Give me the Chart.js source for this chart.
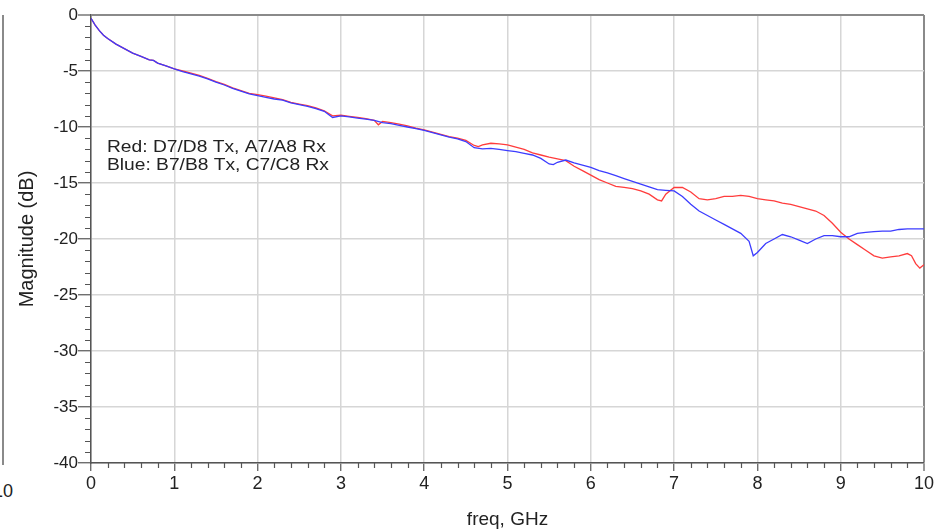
<!DOCTYPE html>
<html><head><meta charset="utf-8">
<script src="https://cdn.jsdelivr.net/npm/chart.js@4.4.0/dist/chart.umd.min.js"></script>
<style>
html,body{margin:0;padding:0;background:#fff;}
#wrap{position:relative;width:944px;height:531px;overflow:hidden;background:#fff;}
canvas{position:absolute;left:0;top:0;}
#edge{position:absolute;left:2px;top:15px;height:450px;border-left:2px solid #8a8a8a;}
#edgeLbl{position:absolute;left:-7px;top:481px;font:18px "Liberation Sans",Arial,sans-serif;color:#222;}
</style></head>
<body><div id="wrap"><div id="edge"></div><div id="edgeLbl">10</div><canvas id="c" width="944" height="531"></canvas></div>
<script>
// [freq GHz, magnitude dB]
const redSeries = [
[0,-0.3],[0.05,-0.9],[0.1,-1.4],[0.15,-1.8],[0.2,-2.1],[0.3,-2.6],[0.4,-3.0],[0.5,-3.4],[0.6,-3.7],[0.7,-4.0],[0.75,-4.05],[0.8,-4.3],[0.9,-4.55],
[1.0,-4.8],[1.1,-5.0],[1.2,-5.2],[1.3,-5.4],[1.4,-5.65],[1.5,-5.95],[1.6,-6.2],[1.7,-6.5],[1.8,-6.75],[1.9,-7.0],
[2.0,-7.1],[2.1,-7.25],[2.2,-7.4],[2.3,-7.55],[2.4,-7.8],[2.5,-7.95],[2.6,-8.1],[2.7,-8.3],[2.8,-8.55],[2.9,-9.0],
[3.0,-8.95],[3.1,-9.05],[3.2,-9.15],[3.3,-9.25],[3.4,-9.4],[3.45,-9.8],[3.5,-9.5],[3.6,-9.6],[3.7,-9.75],[3.8,-9.9],[3.9,-10.1],
[4.0,-10.25],[4.1,-10.45],[4.2,-10.65],[4.3,-10.85],[4.4,-11.0],[4.5,-11.2],[4.6,-11.65],[4.65,-11.75],[4.7,-11.6],[4.8,-11.45],[4.9,-11.5],
[5.0,-11.6],[5.1,-11.8],[5.2,-12.0],[5.3,-12.3],[5.4,-12.5],[5.5,-12.7],[5.6,-12.85],[5.7,-13.0],[5.8,-13.5],[5.9,-13.9],
[6.0,-14.3],[6.1,-14.7],[6.2,-15.0],[6.3,-15.3],[6.4,-15.4],[6.5,-15.5],[6.6,-15.7],[6.7,-16.0],[6.8,-16.5],[6.85,-16.6],[6.9,-16.0],
[7.0,-15.4],[7.1,-15.4],[7.2,-15.8],[7.3,-16.4],[7.4,-16.5],[7.5,-16.4],[7.6,-16.2],[7.7,-16.2],[7.8,-16.1],[7.9,-16.2],
[8.0,-16.4],[8.1,-16.5],[8.2,-16.6],[8.3,-16.8],[8.4,-16.9],[8.5,-17.1],[8.6,-17.3],[8.7,-17.5],[8.8,-17.9],[8.9,-18.6],
[9.0,-19.4],[9.1,-20.0],[9.2,-20.5],[9.3,-21.0],[9.4,-21.5],[9.5,-21.7],[9.6,-21.6],[9.7,-21.5],[9.8,-21.3],[9.85,-21.5],[9.9,-22.2],[9.95,-22.6],[10.0,-22.3]
];
const blueSeries = [
[0,-0.3],[0.05,-0.9],[0.1,-1.4],[0.15,-1.8],[0.2,-2.1],[0.3,-2.6],[0.4,-3.0],[0.5,-3.4],[0.6,-3.7],[0.7,-4.0],[0.75,-4.05],[0.8,-4.3],[0.9,-4.55],
[1.0,-4.8],[1.1,-5.05],[1.2,-5.25],[1.3,-5.45],[1.4,-5.7],[1.5,-6.0],[1.6,-6.25],[1.7,-6.55],[1.8,-6.8],[1.9,-7.05],
[2.0,-7.2],[2.1,-7.35],[2.2,-7.5],[2.3,-7.6],[2.4,-7.85],[2.5,-8.0],[2.6,-8.15],[2.7,-8.35],[2.8,-8.6],[2.9,-9.15],
[3.0,-9.0],[3.1,-9.1],[3.2,-9.2],[3.3,-9.3],[3.4,-9.4],[3.5,-9.6],[3.6,-9.7],[3.7,-9.85],[3.8,-10.0],[3.9,-10.15],
[4.0,-10.3],[4.1,-10.5],[4.2,-10.7],[4.3,-10.9],[4.4,-11.05],[4.5,-11.3],[4.6,-11.85],[4.7,-11.95],[4.8,-11.9],[4.9,-12.0],
[5.0,-12.1],[5.1,-12.2],[5.2,-12.35],[5.3,-12.5],[5.4,-12.8],[5.5,-13.3],[5.55,-13.35],[5.6,-13.15],[5.7,-12.95],[5.8,-13.2],[5.9,-13.4],
[6.0,-13.6],[6.1,-13.9],[6.2,-14.1],[6.3,-14.35],[6.4,-14.6],[6.5,-14.85],[6.6,-15.1],[6.7,-15.35],[6.8,-15.6],[6.9,-15.65],
[7.0,-15.7],[7.1,-16.2],[7.2,-16.9],[7.3,-17.5],[7.4,-17.9],[7.5,-18.3],[7.6,-18.7],[7.7,-19.1],[7.8,-19.5],[7.9,-20.2],[7.95,-21.5],
[8.0,-21.2],[8.05,-20.8],[8.1,-20.4],[8.2,-20.0],[8.3,-19.6],[8.4,-19.8],[8.5,-20.1],[8.6,-20.4],[8.7,-20.0],[8.8,-19.7],[8.9,-19.7],
[9.0,-19.8],[9.1,-19.8],[9.2,-19.5],[9.3,-19.4],[9.4,-19.35],[9.5,-19.3],[9.6,-19.3],[9.7,-19.15],[9.8,-19.1],[9.9,-19.1],[10.0,-19.1]
];
const xTickValues = [0,1,2,3,4,5,6,7,8,9,10];
const yTickValues = [0,-5,-10,-15,-20,-25,-30,-35,-40];
const legendLines = ["Red: D7/D8 Tx, A7/A8 Rx", "Blue: B7/B8 Tx, C7/C8 Rx"];
const xTitle = "freq, GHz";
const yTitle = "Magnitude (dB)";

const FONT = '"Liberation Sans", Arial, Helvetica, sans-serif';
const toXY = s => s.map(p => ({x: p[0], y: p[1]}));

const extras = {
  id: 'extras',
  afterDraw(chart) {
    const {ctx, chartArea: a, scales: {x, y}} = chart;
    ctx.save();
    ctx.strokeStyle = '#555';
    ctx.lineWidth = 1.2;
    ctx.beginPath();
    for (let k = 0; k <= 50; k++) {
      if (k % 5 === 0) continue;
      const px = Math.round(x.getPixelForValue(k * 0.2)) + 0.5;
      ctx.moveTo(px, a.bottom); ctx.lineTo(px, a.bottom + 5);
    }
    for (let k = 0; k <= 40; k++) {
      if (k % 5 === 0) continue;
      const py = Math.round(y.getPixelForValue(-k)) + 0.5;
      ctx.moveTo(a.left, py); ctx.lineTo(a.left - 6, py);
    }
    ctx.stroke();
    ctx.fillStyle = '#222';
    ctx.font = '16px ' + FONT;
    ctx.textBaseline = 'alphabetic';
    legendLines.forEach((t, i) => {
      ctx.save();
      ctx.translate(a.left + 16, a.top + 137 + i * 18);
      ctx.scale(1.2, 1);
      ctx.fillText(t, 0, 0);
      ctx.restore();
    });
    ctx.restore();
  }
};

new Chart(document.getElementById('c'), {
  type: 'scatter',
  data: {
    datasets: [
      {label: 'Blue', data: toXY(blueSeries), showLine: true, borderColor: '#3c3cff', borderWidth: 1.3, pointRadius: 0, tension: 0},
      {label: 'Red', data: toXY(redSeries), showLine: true, borderColor: '#ff3c3c', borderWidth: 1.3, pointRadius: 0, tension: 0}
    ]
  },
  options: {
    responsive: false,
    animation: false,
    layout: {padding: {left: 0, right: 20, top: 15, bottom: 0}},
    plugins: {legend: {display: false}, tooltip: {enabled: false}},
    scales: {
      x: {
        type: 'linear', min: 0, max: 10,
        afterBuildTicks: s => { s.ticks = xTickValues.map(v => ({value: v})); },
        afterFit: s => { s.height = 68; },
        ticks: {font: {size: 18, family: FONT}, color: '#222', maxRotation: 0, autoSkip: false, padding: 2},
        grid: {
          color: c => (c.tick && c.tick.value === 10) ? '#8a8a8a' : '#d6d6d6',
          lineWidth: c => (c.tick && c.tick.value === 10) ? 2 : 1.5,
          tickColor: '#555', tickLength: 8, tickWidth: 1.2
        },
        border: {color: '#555', width: 1.5},
        title: {display: true, text: xTitle, font: {size: 19, family: FONT}, color: '#222', padding: {top: 0, bottom: 0}}
      },
      y: {
        type: 'linear', min: -40, max: 0,
        afterBuildTicks: s => { s.ticks = yTickValues.map(v => ({value: v})); },
        afterFit: s => { s.width = 91; },
        ticks: {font: {size: 17, family: FONT}, color: '#222', padding: 0},
        grid: {
          color: c => (c.tick && c.tick.value === 0) ? '#8a8a8a' : '#d6d6d6',
          lineWidth: c => (c.tick && c.tick.value === 0) ? 2 : 1.5,
          tickColor: '#555', tickLength: 13, tickWidth: 1.2
        },
        border: {color: '#555', width: 1.5},
        title: {display: true, text: yTitle, font: {size: 20, family: FONT}, color: '#222', padding: {top: 15, bottom: 0}}
      }
    }
  },
  plugins: [extras]
});
</script>
</body></html>
